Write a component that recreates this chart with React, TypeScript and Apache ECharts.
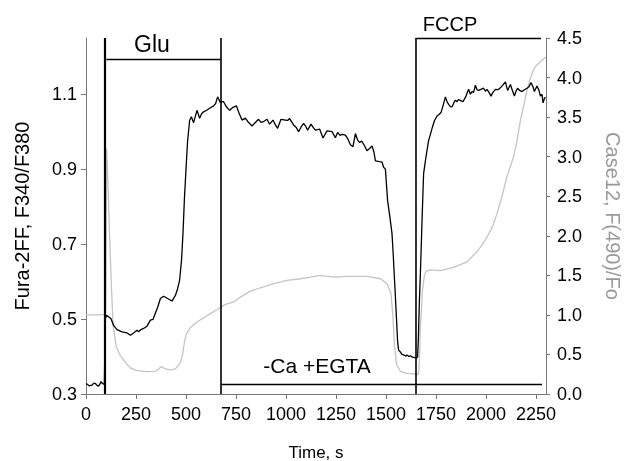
import React, { useEffect, useRef } from "react";
import * as echarts from "echarts";

// Fura-2FF ratio (left axis) — time (s) and value
const furaTime = [
  0, 5, 15, 30, 40, 47, 55, 63, 70, 75, 82, 88, 92, 96, 103, 113, 125, 138, 155, 180, 205, 222, 238, 255, 263, 275, 288,
  305, 322, 335, 347, 358, 372, 388, 408, 430, 447, 458, 468, 478, 485, 492, 500, 508, 518, 527, 538, 555, 568, 578, 588,
  605, 622, 638, 648, 658, 665, 672, 680, 688, 700, 718, 735, 752, 765, 780, 797, 812, 830, 848, 863, 875, 888, 905, 918,
  935, 945, 958, 975, 997, 1008, 1018, 1038, 1050, 1063, 1075, 1088, 1098, 1108, 1125, 1135, 1147, 1168, 1185, 1205, 1230,
  1247, 1258, 1270, 1280, 1297, 1310, 1322, 1335, 1347, 1358, 1368, 1378, 1388, 1405, 1418, 1430, 1440, 1447, 1468, 1480,
  1488, 1497, 1508, 1520, 1530, 1535, 1545, 1552, 1558, 1563, 1572, 1580, 1590, 1600, 1605, 1615, 1622, 1630, 1638, 1645,
  1652, 1658, 1662, 1667, 1672, 1680, 1688, 1697, 1705, 1713, 1722, 1732, 1742, 1755, 1765, 1775, 1785, 1797, 1805, 1813,
  1822, 1830, 1840, 1847, 1855, 1863, 1873, 1885, 1900, 1913, 1922, 1930, 1938, 1947, 1955, 1963, 1975, 1988, 1997, 2005,
  2015, 2025, 2035, 2047, 2060, 2072, 2085, 2097, 2108, 2115, 2122, 2132, 2142, 2150, 2158, 2168, 2180, 2192, 2205, 2215,
  2225, 2235, 2242, 2255, 2265, 2272, 2280, 2285, 2293, 2298,
];
const furaRatio = [
  0.326, 0.327, 0.322, 0.324, 0.329, 0.328, 0.323, 0.321, 0.327, 0.333, 0.328, 0.326, 0.33, 0.5, 0.51, 0.506, 0.501, 0.483,
  0.472, 0.466, 0.463, 0.457, 0.463, 0.47, 0.466, 0.472, 0.475, 0.481, 0.497, 0.499, 0.516, 0.531, 0.555, 0.561, 0.555,
  0.548, 0.563, 0.581, 0.603, 0.66, 0.73, 0.82, 0.9, 0.975, 1.03, 1.04, 1.024, 1.057, 1.036, 1.048, 1.053, 1.058, 1.064,
  1.069, 1.075, 1.093, 1.085, 1.077, 1.08, 1.08, 1.068, 1.057, 1.065, 1.069, 1.05, 1.031, 1.036, 1.025, 1.015, 1.025,
  1.033, 1.025, 1.027, 1.033, 1.02, 1.031, 1.02, 1.009, 1.033, 1.031, 1.03, 1.035, 1.018, 1.012, 1.0, 1.012, 1.022, 1.015,
  1.004, 1.02, 1.012, 1.004, 1.007, 0.983, 1.002, 1.0, 0.984, 0.998, 0.99, 0.993, 0.991, 0.98, 0.965, 0.96, 0.995, 0.978,
  0.971, 0.975, 0.967, 0.949, 0.955, 0.962, 0.945, 0.922, 0.92, 0.919, 0.905, 0.9, 0.816, 0.77, 0.728, 0.683, 0.58, 0.506,
  0.44, 0.417, 0.412, 0.406, 0.404, 0.401, 0.404, 0.4, 0.402, 0.399, 0.398, 0.397, 0.396, 0.399, 0.45, 0.55, 0.622, 0.76,
  0.888, 0.922, 0.95, 0.976, 0.993, 1.012, 1.029, 1.042, 1.046, 1.051, 1.069, 1.093, 1.08, 1.073, 1.067, 1.066, 1.078,
  1.084, 1.08, 1.086, 1.083, 1.08, 1.095, 1.113, 1.1, 1.107, 1.105, 1.124, 1.112, 1.11, 1.113, 1.116, 1.108, 1.113, 1.105,
  1.095, 1.105, 1.113, 1.112, 1.117, 1.125, 1.133, 1.11, 1.118, 1.126, 1.11, 1.095, 1.108, 1.116, 1.11, 1.107, 1.112,
  1.116, 1.12, 1.131, 1.12, 1.107, 1.122, 1.11, 1.095, 1.1, 1.077, 1.09, 1.092,
];

// Case12 F(490)/Fo (right axis)
const caseTime = [
  0, 30, 60, 85, 98, 103, 108, 118, 128, 136, 152, 172, 197, 222, 255, 305, 347, 363, 375, 397, 422, 447, 468, 480, 486,
  492, 502, 522, 555, 605, 655, 688, 705, 738, 772, 822, 872, 938, 1005, 1072, 1122, 1172, 1200, 1247, 1305, 1405, 1472,
  1505, 1525, 1535, 1542, 1552, 1572, 1605, 1655, 1663, 1668, 1672, 1682, 1692, 1700, 1722, 1772, 1838, 1905, 1955, 1985,
  2005, 2030, 2055, 2080, 2105, 2125, 2140, 2155, 2172, 2190, 2205, 2220, 2235, 2250, 2265, 2280, 2300,
];
const caseRatio = [
  1.0, 1.0, 1.0, 1.005, 1.01, 3.1, 2.8, 2.0, 1.3, 0.85, 0.59, 0.485, 0.4, 0.33, 0.295, 0.283, 0.287, 0.317, 0.346, 0.317,
  0.304, 0.317, 0.38, 0.46, 0.55, 0.654, 0.76, 0.84, 0.91, 0.99, 1.065, 1.12, 1.14, 1.16, 1.225, 1.3, 1.343, 1.394, 1.436,
  1.457, 1.478, 1.5, 1.49, 1.478, 1.487, 1.487, 1.457, 1.394, 1.27, 0.97, 0.634, 0.38, 0.287, 0.261, 0.253, 0.253, 0.5,
  0.844, 1.3, 1.5, 1.55, 1.57, 1.56, 1.6, 1.67, 1.8, 1.9, 1.985, 2.1, 2.28, 2.5, 2.75, 2.9, 3.02, 3.2, 3.46, 3.66, 3.84,
  3.98, 4.08, 4.15, 4.18, 4.22, 4.26,
];

const xTicks = [0, 250, 500, 750, 1000, 1250, 1500, 1750, 2000, 2250];
const leftTicks = [0.3, 0.5, 0.7, 0.9, 1.1];
const rightTicks = [0, 0.5, 1, 1.5, 2, 2.5, 3, 3.5, 4, 4.5];

// treatment periods (s) and the level of their bars
const gluPeriod = [92, 675];
const gluBarStart = 102;
const gluBarLevel = 1.194; // left axis
const fccpPeriod = [1648, 2275]; // bar at the right-axis top
const egtaPeriod = [675, 2280];
const egtaBarLevel = 0.12; // right axis

const FONT = "'Liberation Sans', Arial, sans-serif";

export default function App() {
  const ref = useRef<HTMLDivElement>(null);
  useEffect(() => {
    if (!ref.current) return;
    const chart = echarts.init(ref.current, undefined, { renderer: "svg" });
    const axisColor = "#777";
    const black = furaTime.map((t, i) => [t, furaRatio[i]]);
    const gray = caseTime.map((t, i) => [t, caseRatio[i]]);
    chart.setOption({
      animation: false,
      textStyle: { fontFamily: FONT },
      grid: { left: 86, right: 78, top: 38, bottom: 67, outerBoundsMode: "none", containLabel: false },
      xAxis: {
        type: "value",
        min: 0,
        max: 2300,
        interval: 250,
        name: "Time, s",
        nameLocation: "middle",
        nameGap: 50,
        nameTextStyle: { fontSize: 17, color: "#000", fontFamily: FONT },
        axisLine: { show: true, lineStyle: { color: axisColor, width: 1 } },
        axisTick: { show: true, length: 5, customValues: xTicks, lineStyle: { color: axisColor } },
        axisLabel: {
          customValues: xTicks,
          fontSize: 18,
          color: "#000",
          margin: 11,
          fontFamily: FONT,
          formatter: (v: number) => String(v),
        },
        splitLine: { show: false },
      },
      yAxis: [
        {
          type: "value",
          position: "left",
          min: 0.3,
          max: 1.25,
          interval: 0.2,
          name: "Fura-2FF, F340/F380",
          nameLocation: "middle",
          nameRotate: 90,
          nameGap: 54,
          nameTextStyle: { fontSize: 20, color: "#000", fontFamily: FONT },
          axisLine: { show: true, lineStyle: { color: axisColor, width: 1 } },
          axisTick: { show: true, length: 5, customValues: leftTicks, lineStyle: { color: axisColor } },
          axisLabel: {
            customValues: leftTicks,
            fontSize: 18,
            color: "#000",
            margin: 9,
            fontFamily: FONT,
            formatter: (v: number) => v.toFixed(1),
          },
          splitLine: { show: false },
        },
        {
          type: "value",
          position: "right",
          min: 0,
          max: 4.5,
          interval: 0.5,
          name: "Case12, F(490)/Fo",
          nameLocation: "middle",
          nameRotate: -90,
          nameGap: 57,
          nameTextStyle: { fontSize: 20, color: "#999", fontFamily: FONT },
          axisLine: { show: true, lineStyle: { color: axisColor, width: 1 } },
          axisTick: { show: true, length: 4, customValues: rightTicks, lineStyle: { color: axisColor } },
          axisLabel: {
            customValues: rightTicks,
            fontSize: 18,
            color: "#000",
            margin: 11,
            fontFamily: FONT,
            formatter: (v: number) => v.toFixed(1),
          },
          splitLine: { show: false },
        },
      ],
      graphic: [
        {
          type: "text",
          x: 152,
          y: 44,
          style: { text: "Glu", fontSize: 23, fontFamily: FONT, fill: "#000", align: "center", verticalAlign: "middle" },
        },
        {
          type: "text",
          x: 450,
          y: 24,
          style: { text: "FCCP", fontSize: 20, fontFamily: FONT, fill: "#000", align: "center", verticalAlign: "middle" },
        },
        {
          type: "text",
          x: 317,
          y: 365,
          style: {
            text: "-Ca +EGTA",
            fontSize: 21,
            fontFamily: FONT,
            fill: "#000",
            align: "center",
            verticalAlign: "middle",
          },
        },
      ],
      series: [
        {
          type: "line",
          yAxisIndex: 1,
          data: gray,
          showSymbol: false,
          lineStyle: { color: "#c4c4c4", width: 1.3 },
          itemStyle: { color: "#c4c4c4" },
          z: 2,
          markLine: {
            silent: true,
            symbol: ["none", "none"],
            label: { show: false },
            lineStyle: { color: "#000", type: "solid", width: 1.3 },
            data: [
              [
                { coord: [fccpPeriod[0], 0], lineStyle: { color: "#000", type: "solid", width: 1.6 } },
                { coord: [fccpPeriod[0], 4.5] },
              ],
              [{ coord: [fccpPeriod[0], 4.5] }, { coord: [fccpPeriod[1], 4.5] }],
              [{ coord: [egtaPeriod[0], egtaBarLevel] }, { coord: [egtaPeriod[1], egtaBarLevel] }],
            ],
          },
        },
        {
          type: "line",
          yAxisIndex: 0,
          data: black,
          showSymbol: false,
          lineStyle: { color: "#000", width: 1.3 },
          itemStyle: { color: "#000" },
          z: 3,
          markLine: {
            silent: true,
            symbol: ["none", "none"],
            label: { show: false },
            lineStyle: { color: "#000", type: "solid", width: 1.3 },
            data: [
              [
                { coord: [gluPeriod[0], 0.3], lineStyle: { color: "#000", type: "solid", width: 2.2 } },
                { coord: [gluPeriod[0], 1.25] },
              ],
              [
                { coord: [gluPeriod[1], 0.3], lineStyle: { color: "#000", type: "solid", width: 1.6 } },
                { coord: [gluPeriod[1], 1.25] },
              ],
              [{ coord: [gluBarStart, gluBarLevel] }, { coord: [gluPeriod[1], gluBarLevel] }],
            ],
          },
        },
      ],
    });
    return () => chart.dispose();
  }, []);
  return <div ref={ref} style={{ position: "fixed", left: 0, top: 0, width: 624, height: 461 }} />;
}
